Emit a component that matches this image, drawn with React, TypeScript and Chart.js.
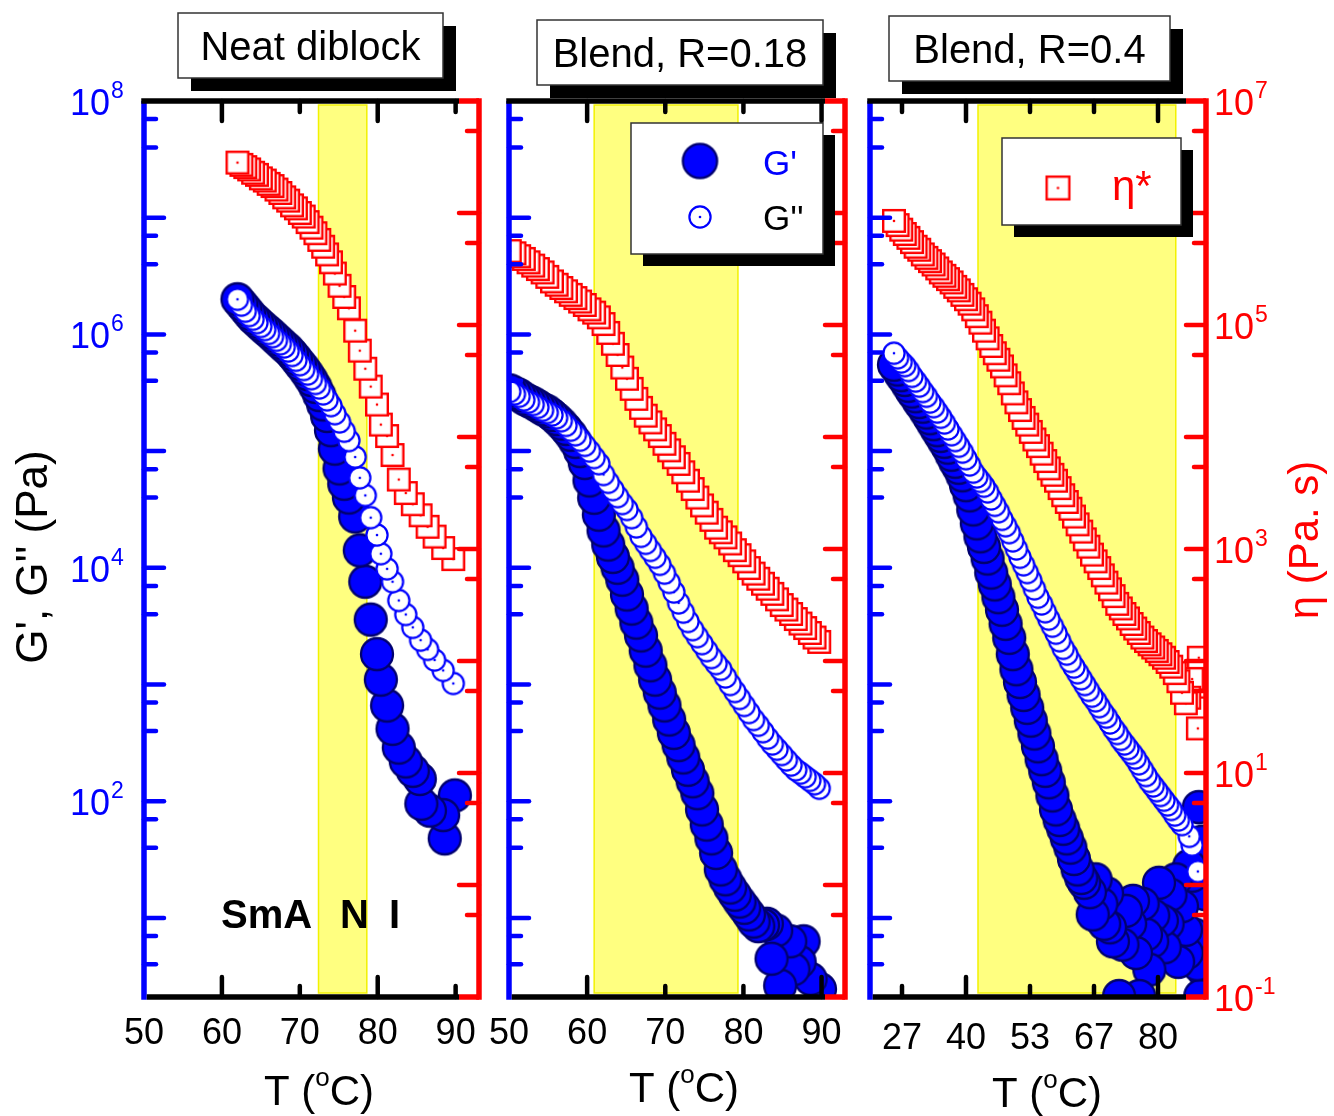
import React, { useEffect, useRef } from 'react';
import { Chart, registerables } from 'chart.js';

Chart.register(...registerables);

const W = 1334;
const H = 1116;
const TOP = 101;
const BOTTOM = 997;
const FONT = '"Liberation Sans", Arial, Helvetica, sans-serif';
const BLUE = '#0000ff';
const RED = '#ff0000';
const NAVY = '#00006e';

// ---------------- data: panel 1 (Neat diblock) ----------------
const p1T = [62.0, 62.5, 63.0, 63.5, 64.0, 64.5, 65.0, 65.5, 66.0, 66.5, 67.0, 67.5, 68.0, 68.5, 69.0, 69.5, 70.0, 70.5, 71.0, 71.5, 72.0, 72.5, 73.0, 73.5, 74.0, 74.5, 75.1, 75.7, 76.3, 77.1, 77.7, 78.4, 79.1, 79.9, 80.4, 81.2, 81.9, 82.7, 83.6, 84.5, 85.5, 86.4, 87.3, 88.4, 89.7];
const p1Eta = [2.82e6, 2.69e6, 2.57e6, 2.45e6, 2.29e6, 2.19e6, 2.04e6, 1.95e6, 1.82e6, 1.74e6, 1.62e6, 1.51e6, 1.38e6, 1.29e6, 1.17e6, 1.1e6, 1.0e6, 9.3e5, 8.3e5, 7.4e5, 6.6e5, 5.75e5, 5.0e5, 4.27e5, 3.63e5, 2.88e5, 2.24e5, 1.78e5, 1.41e5, 8.9e4, 5.9e4, 4.07e4, 2.82e4, 1.95e4, 1.29e4, 1.02e4, 6.9e3, 4.17e3, 3.16e3, 2.51e3, 2.0e3, 1.58e3, 1.29e3, 1.02e3, 813];
const p1Gpp = [2.0e6, 1.78e6, 1.58e6, 1.45e6, 1.35e6, 1.26e6, 1.17e6, 1.1e6, 1.02e6, 9.55e5, 8.9e5, 8.3e5, 7.8e5, 7.2e5, 6.6e5, 6.0e5, 5.5e5, 5.0e5, 4.57e5, 4.17e5, 3.8e5, 3.47e5, 3.09e5, 2.75e5, 2.45e5, 2.09e5, 1.78e5, 1.48e5, 1.23e5, 8.9e4, 5.9e4, 4.17e4, 2.69e4, 1.91e4, 1.32e4, 9.8e3, 7.6e3, 5.25e3, 3.98e3, 3.09e3, 2.4e3, 2.0e3, 1.62e3, 1.32e3, 1.02e3];
const p1GpT = [62.0, 62.5, 63.0, 63.5, 64.0, 64.5, 65.0, 65.5, 66.0, 66.5, 67.0, 67.5, 68.0, 68.5, 69.0, 69.5, 70.0, 70.5, 71.0, 71.5, 72.0, 72.5, 73.0, 73.5, 74.0, 74.5, 75.1, 75.7, 76.3, 77.1, 77.7, 78.4, 79.1, 79.9, 80.4, 81.2, 81.9, 82.7, 83.6, 84.5, 85.4, 85.6, 86.7, 88.4, 88.6, 89.9];
const p1Gp = [2.0e6, 1.82e6, 1.66e6, 1.51e6, 1.38e6, 1.29e6, 1.2e6, 1.12e6, 1.05e6, 9.8e5, 9.1e5, 8.5e5, 7.9e5, 7.4e5, 6.8e5, 6.2e5, 5.6e5, 5.1e5, 4.57e5, 4.07e5, 3.55e5, 3.02e5, 2.51e5, 2.0e5, 1.51e5, 1.05e5, 7.1e4, 5.25e4, 4.0e4, 2.75e4, 1.41e4, 7.6e3, 3.6e3, 1.82e3, 1.1e3, 660, 417, 288, 219, 182, 155, 95, 83, 76, 48, 112];
const p1Band = [72.4, 78.6];

// ---------------- data: panel 2 (Blend, R=0.18) ----------------
const p2T = [50.1, 50.7, 51.3, 51.9, 52.5, 53.1, 53.7, 54.3, 54.9, 55.5, 56.1, 56.7, 57.3, 57.9, 58.5, 59.1, 59.7, 60.3, 60.9, 61.5, 62.1, 62.7, 63.3, 63.9, 64.5, 65.1, 65.7, 66.3, 66.9, 67.5, 68.1, 68.7, 69.3, 69.9, 70.5, 71.1, 71.7, 72.3, 72.9, 73.5, 74.1, 74.7, 75.3, 75.9, 76.5, 77.1, 77.7, 78.3, 78.9, 79.5, 80.1, 80.7, 81.3, 81.9, 82.5, 83.1, 83.7, 84.3, 84.9, 85.5, 86.1, 86.7, 87.3, 87.9, 88.5, 89.1, 89.7];
const p2Eta = [4.57e5, 4.37e5, 4.12e5, 3.89e5, 3.63e5, 3.39e5, 3.16e5, 2.95e5, 2.69e5, 2.45e5, 2.29e5, 2.14e5, 2.0e5, 1.86e5, 1.74e5, 1.62e5, 1.51e5, 1.38e5, 1.29e5, 1.17e5, 1.02e5, 8.5e4, 6.8e4, 5.4e4, 4.17e4, 3.31e4, 2.69e4, 2.19e4, 1.82e4, 1.55e4, 1.35e4, 1.17e4, 1.02e4, 8.7e3, 7.6e3, 6.6e3, 5.75e3, 4.84e3, 4.07e3, 3.43e3, 2.88e3, 2.45e3, 2.11e3, 1.82e3, 1.55e3, 1.41e3, 1.27e3, 1.12e3, 977, 881, 776, 676, 603, 543, 490, 442, 398, 355, 316, 288, 263, 237, 216, 197, 178, 162, 148];
const p2Gpp = [3.24e5, 3.09e5, 2.95e5, 2.75e5, 2.63e5, 2.51e5, 2.37e5, 2.24e5, 2.14e5, 2.04e5, 1.93e5, 1.82e5, 1.66e5, 1.51e5, 1.38e5, 1.24e5, 1.12e5, 1.0e5, 8.8e4, 7.8e4, 6.3e4, 5.4e4, 4.68e4, 4.07e4, 3.55e4, 3.16e4, 2.69e4, 2.24e4, 1.86e4, 1.62e4, 1.41e4, 1.23e4, 1.07e4, 9.0e3, 7.5e3, 6.2e3, 5.0e3, 4.17e3, 3.47e3, 2.95e3, 2.57e3, 2.24e3, 1.95e3, 1.7e3, 1.51e3, 1.35e3, 1.16e3, 1.0e3, 871, 759, 661, 575, 501, 447, 394, 347, 309, 279, 251, 226, 204, 186, 174, 162, 151, 141, 129];
const p2GpT = [50.1, 50.7, 51.3, 51.9, 52.5, 53.1, 53.7, 54.3, 54.9, 55.5, 56.1, 56.7, 57.3, 57.9, 58.5, 59.1, 59.7, 60.3, 60.9, 61.5, 62.1, 62.7, 63.3, 63.9, 64.5, 65.1, 65.7, 66.3, 66.9, 67.5, 68.1, 68.7, 69.3, 69.9, 70.5, 71.1, 71.7, 72.3, 72.9, 73.5, 74.1, 74.7, 75.3, 75.9, 76.5, 77.1, 77.7, 78.3, 78.9, 79.5, 80.1, 80.7, 81.3, 81.9, 82.5, 83.0, 83.6, 84.2, 84.7, 86.0, 86.4, 87.2, 87.7, 88.6, 89.8];
const p2Gp = [3.31e5, 3.16e5, 3.02e5, 2.82e5, 2.69e5, 2.57e5, 2.43e5, 2.29e5, 2.19e5, 2.04e5, 1.88e5, 1.72e5, 1.55e5, 1.38e5, 1.2e5, 1.0e5, 7.9e4, 5.6e4, 3.98e4, 2.85e4, 2.09e4, 1.58e4, 1.24e4, 1.0e4, 7.9e3, 5.9e3, 4.47e3, 3.39e3, 2.63e3, 1.95e3, 1.46e3, 1.1e3, 851, 661, 501, 385, 302, 237, 186, 148, 117, 85, 63, 48, 36, 26, 21.4, 18.2, 15.8, 13.8, 12.2, 10.7, 9.3, 8.5, 8.7, 8.9, 4.47, 7.8, 2.63, 6.3, 3.63, 4.2, 6.3, 3.0, 2.45];
const p2Band = [60.9, 79.3];

// ---------------- data: panel 3 (Blend, R=0.4) ----------------
const p3EtaT = [25.0, 25.75, 26.5, 27.25, 28.0, 28.75, 29.5, 30.25, 31.0, 31.75, 32.5, 33.25, 34.0, 34.75, 35.5, 36.25, 37.0, 37.75, 38.5, 39.25, 40.0, 40.75, 41.5, 42.25, 43.0, 43.75, 44.5, 45.25, 46.0, 46.75, 47.5, 48.25, 49.0, 49.75, 50.5, 51.25, 52.0, 52.75, 53.5, 54.25, 55.0, 55.75, 56.5, 57.25, 58.0, 58.75, 59.5, 60.25, 61.0, 61.75, 62.5, 63.25, 64.0, 64.75, 65.5, 66.25, 67.0, 67.75, 68.5, 69.25, 70.0, 70.75, 71.5, 72.25, 73.0, 73.75, 74.5, 75.25, 76.0, 76.75, 77.5, 78.25, 79.0, 79.75, 80.5, 81.25, 82.0, 82.75, 83.5, 84.25, 85.0, 85.8, 86.5, 87.1, 88.3, 88.5, 89.2];
const p3Eta = [8.5e5, 7.8e5, 7.1e5, 6.5e5, 6.0e5, 5.5e5, 5.0e5, 4.7e5, 4.27e5, 3.98e5, 3.72e5, 3.47e5, 3.2e5, 2.95e5, 2.75e5, 2.57e5, 2.4e5, 2.19e5, 2.04e5, 1.86e5, 1.7e5, 1.55e5, 1.38e5, 1.2e5, 1.05e5, 8.9e4, 7.6e4, 6.5e4, 5.6e4, 4.9e4, 4.27e4, 3.55e4, 3.02e4, 2.45e4, 2.04e4, 1.74e4, 1.48e4, 1.29e4, 1.11e4, 9.5e3, 8.3e3, 7.1e3, 6.1e3, 5.25e3, 4.6e3, 4.07e3, 3.5e3, 3.02e3, 2.63e3, 2.29e3, 1.95e3, 1.66e3, 1.43e3, 1.22e3, 1.05e3, 891, 776, 676, 582, 501, 437, 380, 324, 295, 263, 240, 214, 195, 178, 162, 151, 141, 132, 123, 115, 107, 98, 89, 78, 66, 52, 42, 47, 69, 25, 107, 59];
const p3GppT = [25.0, 25.75, 26.5, 27.25, 28.0, 28.75, 29.5, 30.25, 31.0, 31.75, 32.5, 33.25, 34.0, 34.75, 35.5, 36.25, 37.0, 37.75, 38.5, 39.25, 40.0, 40.75, 41.5, 42.25, 43.0, 43.75, 44.5, 45.25, 46.0, 46.75, 47.5, 48.25, 49.0, 49.75, 50.5, 51.25, 52.0, 52.75, 53.5, 54.25, 55.0, 55.75, 56.5, 57.25, 58.0, 58.75, 59.5, 60.25, 61.0, 61.75, 62.5, 63.25, 64.0, 64.75, 65.5, 66.25, 67.0, 67.75, 68.5, 69.25, 70.0, 70.75, 71.5, 72.25, 73.0, 73.75, 74.5, 75.25, 76.0, 76.75, 77.5, 78.25, 79.0, 79.75, 80.5, 81.25, 82.0, 82.75, 83.5, 84.25, 85.0, 86.5, 87.1, 88.3];
const p3Gpp = [6.9e5, 6.3e5, 5.8e5, 5.4e5, 4.9e5, 4.37e5, 3.98e5, 3.6e5, 3.24e5, 2.95e5, 2.63e5, 2.4e5, 2.16e5, 1.95e5, 1.74e5, 1.55e5, 1.38e5, 1.23e5, 1.1e5, 9.8e4, 8.6e4, 7.6e4, 6.6e4, 6.0e4, 5.5e4, 5.0e4, 4.47e4, 3.89e4, 3.43e4, 3.02e4, 2.6e4, 2.29e4, 2.0e4, 1.7e4, 1.45e4, 1.23e4, 1.06e4, 9.1e3, 7.8e3, 6.6e3, 5.6e3, 4.9e3, 4.2e3, 3.63e3, 3.16e3, 2.75e3, 2.37e3, 2.04e3, 1.82e3, 1.58e3, 1.41e3, 1.26e3, 1.12e3, 1.0e3, 891, 794, 724, 646, 575, 525, 468, 417, 380, 339, 309, 282, 257, 234, 209, 186, 166, 148, 135, 123, 112, 102, 93, 85, 76, 69, 63, 50, 42, 25];
const p3GpT = [25.0, 25.75, 26.5, 27.25, 28.0, 28.75, 29.5, 30.25, 31.0, 31.75, 32.5, 33.25, 34.0, 34.75, 35.5, 36.25, 37.0, 37.75, 38.5, 39.25, 40.0, 40.75, 41.5, 42.25, 43.0, 43.75, 44.5, 45.25, 46.0, 46.75, 47.5, 48.25, 49.0, 49.75, 50.5, 51.25, 52.0, 52.75, 53.5, 54.25, 55.0, 55.75, 56.5, 57.25, 58.0, 58.75, 59.5, 60.25, 61.0, 61.75, 62.5, 63.25, 64.0, 64.6, 65.8, 66.4, 67.0, 68.2, 68.8, 69.4, 70.0, 70.6, 71.9, 72.6, 73.3, 74.2, 74.8, 75.4, 76.1, 76.8, 77.5, 78.2, 78.8, 79.0, 80.2, 80.8, 81.4, 82.0, 82.6, 83.7, 84.2, 85.0, 85.8, 86.0, 86.5, 87.1, 87.6, 88.2, 88.5, 88.8, 89.2, 89.5, 89.8];
const p3Gp = [5.5e5, 5.0e5, 4.47e5, 4.07e5, 3.63e5, 3.24e5, 2.95e5, 2.63e5, 2.4e5, 2.14e5, 1.91e5, 1.7e5, 1.51e5, 1.35e5, 1.2e5, 1.07e5, 9.3e4, 8.1e4, 7.2e4, 6.2e4, 5.1e4, 4.17e4, 3.16e4, 2.4e4, 1.86e4, 1.51e4, 1.2e4, 9.1e3, 7.2e3, 5.6e3, 4.37e3, 3.31e3, 2.51e3, 1.82e3, 1.35e3, 1.05e3, 813, 631, 490, 380, 295, 229, 182, 145, 112, 85, 69, 58, 48, 40, 32, 26, 22, 20, 16.6, 10.7, 21.4, 13.2, 8.9, 16.2, 8.3, 6.3, 2.14, 5.9, 11.5, 8.9, 14, 5.0, 2.14, 13.2, 7.2, 3.6, 6.3, 10.5, 20, 9.5, 5.6, 8.9, 15.8, 21.4, 4.2, 12.6, 7.9, 5.0, 28, 23, 7.2, 4.0, 89, 2.14, 45, 3.5, 16];
const p3Band = [42.5, 83.7];

// ---------------- axes / labels ----------------
const panelTitles = ['Neat diblock', 'Blend, R=0.18', 'Blend, R=0.4'];
const xTicks12 = [50, 60, 70, 80, 90];
const xTickLabels12 = ['50', '60', '70', '80', '90'];
const xTicks3 = [80 / 3, 40, 160 / 3, 200 / 3, 80];
const xTickLabels3 = ['27', '40', '53', '67', '80'];
const gLabelVals = [1e2, 1e4, 1e6, 1e8];
const gLabelExp = ['2', '4', '6', '8'];
const etaLabelVals = [1e-1, 1e1, 1e3, 1e5, 1e7];
const etaLabelExp = ['-1', '1', '3', '5', '7'];
const gMajorTicks = [1e1, 1e2, 1e3, 1e4, 1e5, 1e6, 1e7];
const gMinorTicks = [4, 7, 40, 70, 400, 700, 4e3, 7e3, 4e4, 7e4, 4e5, 7e5, 4e6, 7e6, 4e7, 7e7];
const etaMajorTicks = [1, 10, 1e2, 1e3, 1e4, 1e5, 1e6];
const etaMinorTicks = [0.54, 5.4, 54, 540, 5.4e3, 5.4e4, 5.4e5, 5.4e6];
const phaseLabels = ['SmA', 'N', 'I'];
const G_MIN = 2.1;
const G_MAX = 1e8;
const ETA_MIN = 0.1;
const ETA_MAX = 1e7;

type Cfg = {
  id: string;
  left: number;
  right: number;
  xMin: number;
  xMax: number;
  xTicks: number[];
  xLabels: string[];
  xLong: number[];
  xLabelBase: number;
  band: number[];
  gpT: number[];
  gp: number[];
  gppT: number[];
  gpp: number[];
  etaT: number[];
  eta: number[];
  title: string;
  titleBox: number[];
  titleBase: number;
  xTitleX: number;
  xTitleBase: number;
  leftLabels: boolean;
  rightLabels: boolean;
  legend: 'g' | 'eta' | null;
  phases: boolean;
};

const panels: Cfg[] = [
  {
    id: 'p1', left: 144, right: 479, xMin: 50, xMax: 93,
    xTicks: xTicks12, xLabels: xTickLabels12, xLong: [60, 80], xLabelBase: 1044,
    band: p1Band, gpT: p1GpT, gp: p1Gp, gppT: p1T, gpp: p1Gpp, etaT: p1T, eta: p1Eta,
    title: panelTitles[0], titleBox: [178, 13, 265, 65], titleBase: 60,
    xTitleX: 319, xTitleBase: 1105, leftLabels: true, rightLabels: false, legend: null, phases: true,
  },
  {
    id: 'p2', left: 509, right: 845, xMin: 50, xMax: 93,
    xTicks: xTicks12, xLabels: xTickLabels12, xLong: [60, 90], xLabelBase: 1044,
    band: p2Band, gpT: p2GpT, gp: p2Gp, gppT: p2T, gpp: p2Gpp, etaT: p2T, eta: p2Eta,
    title: panelTitles[1], titleBox: [537, 20, 286, 65], titleBase: 67,
    xTitleX: 684, xTitleBase: 1102, leftLabels: false, rightLabels: false, legend: 'g', phases: false,
  },
  {
    id: 'p3', left: 870, right: 1206, xMin: 20, xMax: 90,
    xTicks: xTicks3, xLabels: xTickLabels3, xLong: [40, 80], xLabelBase: 1049,
    band: p3Band, gpT: p3GpT, gp: p3Gp, gppT: p3GppT, gpp: p3Gpp, etaT: p3EtaT, eta: p3Eta,
    title: panelTitles[2], titleBox: [889, 16, 281, 65], titleBase: 63,
    xTitleX: 1047, xTitleBase: 1107, leftLabels: false, rightLabels: true, legend: 'eta', phases: false,
  },
];

function makeMarker(kind: 'gp' | 'gpp' | 'eta', scale = 1): HTMLCanvasElement {
  const c = document.createElement('canvas');
  if (kind === 'gp') {
    const r = 16 * scale;
    const s = Math.ceil(2 * r + 6);
    c.width = s; c.height = s;
    const ctx = c.getContext('2d')!;
    ctx.beginPath();
    ctx.arc(s / 2, s / 2, r, 0, Math.PI * 2);
    ctx.fillStyle = BLUE;
    ctx.fill();
    ctx.lineWidth = 2.3;
    ctx.strokeStyle = NAVY;
    ctx.stroke();
  } else if (kind === 'gpp') {
    const r = 10.6 * scale;
    const s = Math.ceil(2 * r + 6);
    c.width = s; c.height = s;
    const ctx = c.getContext('2d')!;
    ctx.beginPath();
    ctx.arc(s / 2, s / 2, r, 0, Math.PI * 2);
    ctx.fillStyle = '#ffffff';
    ctx.fill();
    ctx.lineWidth = 2.2;
    ctx.strokeStyle = BLUE;
    ctx.stroke();
    ctx.beginPath();
    ctx.arc(s / 2, s / 2, 1.3, 0, Math.PI * 2);
    ctx.fillStyle = BLUE;
    ctx.fill();
  } else {
    const h = 10.8 * scale;
    const s = Math.ceil(2 * h + 6);
    c.width = s; c.height = s;
    const ctx = c.getContext('2d')!;
    ctx.fillStyle = '#ffffff';
    ctx.fillRect(s / 2 - h, s / 2 - h, 2 * h, 2 * h);
    ctx.lineWidth = 2.4;
    ctx.strokeStyle = RED;
    ctx.strokeRect(s / 2 - h, s / 2 - h, 2 * h, 2 * h);
    ctx.beginPath();
    ctx.arc(s / 2, s / 2, 1.3, 0, Math.PI * 2);
    ctx.fillStyle = RED;
    ctx.fill();
  }
  return c;
}

function seg(ctx: CanvasRenderingContext2D, x1: number, y1: number, x2: number, y2: number) {
  ctx.beginPath();
  ctx.moveTo(x1, y1);
  ctx.lineTo(x2, y2);
  ctx.stroke();
}

function shadowBox(ctx: CanvasRenderingContext2D, x: number, y: number, w: number, h: number, off: number) {
  ctx.fillStyle = '#000';
  ctx.fillRect(x + off, y + off, w, h);
  ctx.fillStyle = '#fff';
  ctx.fillRect(x, y, w, h);
  ctx.strokeStyle = '#333';
  ctx.lineWidth = 1.5;
  ctx.strokeRect(x, y, w, h);
}

function drawPow(ctx: CanvasRenderingContext2D, xStart: number, yc: number, exp: string, color: string, alignRight: boolean) {
  ctx.fillStyle = color;
  ctx.textBaseline = 'alphabetic';
  ctx.textAlign = 'left';
  ctx.font = `36px ${FONT}`;
  const w10 = ctx.measureText('10').width;
  const x0 = alignRight ? xStart - w10 : xStart;
  ctx.fillText('10', x0, yc + 14);
  ctx.font = `23px ${FONT}`;
  ctx.fillText(exp, x0 + w10 + 1, yc - 3);
}

function drawTTitle(ctx: CanvasRenderingContext2D, cx: number, base: number) {
  ctx.fillStyle = '#000';
  ctx.textBaseline = 'alphabetic';
  ctx.textAlign = 'left';
  const big = `42px ${FONT}`;
  const small = `26px ${FONT}`;
  ctx.font = big;
  const w1 = ctx.measureText('T (').width;
  const w3 = ctx.measureText('C)').width;
  ctx.font = small;
  const w2 = ctx.measureText('o').width;
  let x = cx - (w1 + w2 + w3) / 2;
  ctx.font = big;
  ctx.fillText('T (', x, base);
  x += w1;
  ctx.font = small;
  ctx.fillText('o', x, base - 19);
  x += w2;
  ctx.font = big;
  ctx.fillText('C)', x, base);
}

function makePlugin(cfg: Cfg, mk: Record<string, HTMLCanvasElement>) {
  return {
    id: 'decor_' + cfg.id,
    beforeDatasetsDraw(chart: any) {
      const { ctx, chartArea: a, scales } = chart;
      const x1 = scales.x.getPixelForValue(cfg.band[0]);
      const x2 = scales.x.getPixelForValue(cfg.band[1]);
      ctx.save();
      ctx.fillStyle = '#ffff80';
      ctx.fillRect(x1, a.top + 4, x2 - x1, a.bottom - a.top - 8);
      ctx.strokeStyle = '#f2f200';
      ctx.lineWidth = 1.5;
      ctx.strokeRect(x1, a.top + 4, x2 - x1, a.bottom - a.top - 8);
      ctx.restore();
    },
    afterDraw(chart: any) {
      const { ctx, chartArea: a, scales } = chart;
      const xs = scales.x, yl = scales.y, yr = scales.y2;
      const L = a.left, R = a.right, T = a.top, B = a.bottom;
      ctx.save();
      // frame
      ctx.lineCap = 'butt';
      ctx.lineWidth = 5.5;
      ctx.strokeStyle = BLUE;
      seg(ctx, L, T, L, B + 2.75);
      ctx.strokeStyle = '#000';
      seg(ctx, L - 2.75, T, R - 20, T);
      seg(ctx, L + 2.75, B, R - 20, B);
      ctx.strokeStyle = RED;
      seg(ctx, R, T - 2.75, R, B + 2.75);
      seg(ctx, R - 20, T, R, T);
      seg(ctx, R - 20, B, R, B);
      // ticks
      ctx.lineCap = 'round';
      ctx.lineWidth = 4.5;
      ctx.strokeStyle = BLUE;
      for (const v of gMajorTicks) {
        const y = yl.getPixelForValue(v);
        if (y > T + 4 && y < B - 4) seg(ctx, L, y, L + 20, y);
      }
      for (const v of gMinorTicks) {
        const y = yl.getPixelForValue(v);
        if (y > T + 4 && y < B - 4) seg(ctx, L, y, L + 12, y);
      }
      ctx.strokeStyle = RED;
      for (const v of etaMajorTicks) {
        const y = yr.getPixelForValue(v);
        if (y > T + 4 && y < B - 4) seg(ctx, R, y, R - 20, y);
      }
      for (const v of etaMinorTicks) {
        const y = yr.getPixelForValue(v);
        if (y > T + 4 && y < B - 4) seg(ctx, R, y, R - 12, y);
      }
      ctx.strokeStyle = '#000';
      cfg.xTicks.forEach((v) => {
        const x = xs.getPixelForValue(v);
        if (x > L + 4 && x < R - 4) {
          const len = cfg.xLong.includes(v) ? 20 : 11;
          seg(ctx, x, T, x, T + len);
          seg(ctx, x, B, x, B - len);
        }
      });
      // x tick labels
      ctx.fillStyle = '#000';
      ctx.font = `36px ${FONT}`;
      ctx.textAlign = 'center';
      ctx.textBaseline = 'alphabetic';
      cfg.xTicks.forEach((v, i) => ctx.fillText(cfg.xLabels[i], xs.getPixelForValue(v), cfg.xLabelBase));
      drawTTitle(ctx, cfg.xTitleX, cfg.xTitleBase);
      // y labels
      if (cfg.leftLabels) {
        gLabelVals.forEach((v, i) => drawPow(ctx, 110, yl.getPixelForValue(v), gLabelExp[i], BLUE, true));
        ctx.save();
        ctx.translate(47, 557);
        ctx.rotate(-Math.PI / 2);
        ctx.fillStyle = '#000';
        ctx.font = `44px ${FONT}`;
        ctx.textAlign = 'center';
        ctx.textBaseline = 'alphabetic';
        ctx.fillText("G', G'' (Pa)", 0, 0);
        ctx.restore();
      }
      if (cfg.rightLabels) {
        etaLabelVals.forEach((v, i) => drawPow(ctx, 1214, yr.getPixelForValue(v), etaLabelExp[i], RED, false));
        ctx.save();
        ctx.translate(1318, 540);
        ctx.rotate(-Math.PI / 2);
        ctx.fillStyle = RED;
        ctx.font = `42px ${FONT}`;
        ctx.textAlign = 'center';
        ctx.textBaseline = 'alphabetic';
        ctx.fillText('\u03b7 (Pa. s)', 0, 0);
        ctx.restore();
      }
      // title box
      const [bx, by, bw, bh] = cfg.titleBox;
      shadowBox(ctx, bx, by, bw, bh, 13);
      ctx.fillStyle = '#000';
      ctx.font = `40px ${FONT}`;
      ctx.textAlign = 'center';
      ctx.fillText(cfg.title, bx + bw / 2, cfg.titleBase);
      // legends
      if (cfg.legend === 'g') {
        shadowBox(ctx, 631, 123, 192, 131, 12);
        const big = mk.gpLegend;
        ctx.drawImage(big, 700 - big.width / 2, 161 - big.height / 2);
        const sm = mk.gpp;
        ctx.drawImage(sm, 700 - sm.width / 2, 217 - sm.height / 2);
        ctx.textAlign = 'left';
        ctx.font = `35px ${FONT}`;
        ctx.fillStyle = BLUE;
        ctx.fillText("G'", 763, 175);
        ctx.fillStyle = '#000';
        ctx.fillText("G''", 763, 230);
      }
      if (cfg.legend === 'eta') {
        shadowBox(ctx, 1002, 138, 179, 87, 12);
        const sq = mk.etaLegend;
        ctx.drawImage(sq, 1058 - sq.width / 2, 188 - sq.height / 2);
        ctx.textAlign = 'left';
        ctx.font = `42px ${FONT}`;
        ctx.fillStyle = RED;
        ctx.fillText('\u03b7*', 1112, 200);
      }
      if (cfg.phases) {
        ctx.fillStyle = '#000';
        ctx.font = `bold 40px ${FONT}`;
        ctx.textAlign = 'left';
        ctx.fillText(phaseLabels[0], 221, 928);
        ctx.fillText(phaseLabels[1], 340, 928);
        ctx.fillText(phaseLabels[2], 389, 928);
      }
      ctx.restore();
    },
  };
}

function pts(xs: number[], ys: number[]) {
  // measured on cooling: the high-temperature points are drawn first
  return xs.map((x, i) => ({ x, y: ys[i] })).reverse();
}

function Panel({ cfg }: { cfg: Cfg }) {
  const ref = useRef<HTMLCanvasElement | null>(null);
  useEffect(() => {
    if (!ref.current) return;
    const mk: Record<string, HTMLCanvasElement> = {
      gp: makeMarker('gp'),
      gpp: makeMarker('gpp'),
      eta: makeMarker('eta'),
      gpLegend: makeMarker('gp', 1.07),
      etaLegend: makeMarker('eta', 1.05),
    };
    const chart = new Chart(ref.current, {
      type: 'scatter',
      data: {
        datasets: [
          { label: "G'", data: pts(cfg.gpT, cfg.gp), yAxisID: 'y', pointStyle: mk.gp as any, pointRadius: 17, order: 2, clip: 0 } as any,
          { label: "G''", data: pts(cfg.gppT, cfg.gpp), yAxisID: 'y', pointStyle: mk.gpp as any, pointRadius: 12, order: 1, clip: 0 } as any,
          { label: '\u03b7*', data: pts(cfg.etaT, cfg.eta), yAxisID: 'y2', pointStyle: mk.eta as any, pointRadius: 12, order: 0, clip: 0 } as any,
        ],
      },
      options: {
        animation: false,
        responsive: false,
        devicePixelRatio: 1,
        events: [],
        layout: { padding: { left: cfg.left, right: W - cfg.right, top: TOP, bottom: H - BOTTOM } },
        plugins: { legend: { display: false }, tooltip: { enabled: false }, title: { display: false } },
        scales: {
          x: { type: 'linear', min: cfg.xMin, max: cfg.xMax, display: false },
          y: { type: 'logarithmic', min: G_MIN, max: G_MAX, display: false },
          y2: { type: 'logarithmic', min: ETA_MIN, max: ETA_MAX, display: false, position: 'right' },
        },
      } as any,
      plugins: [makePlugin(cfg, mk)],
    });
    return () => chart.destroy();
  }, [cfg]);
  return (
    <canvas
      ref={ref}
      width={W}
      height={H}
      style={{ position: 'absolute', left: 0, top: 0, width: W, height: H }}
    />
  );
}

export default function App() {
  return (
    <div style={{ position: 'absolute', left: 0, top: 0, width: W, height: H, background: '#fff', overflow: 'hidden' }}>
      {panels.map((p) => (
        <Panel key={p.id} cfg={p} />
      ))}
    </div>
  );
}
